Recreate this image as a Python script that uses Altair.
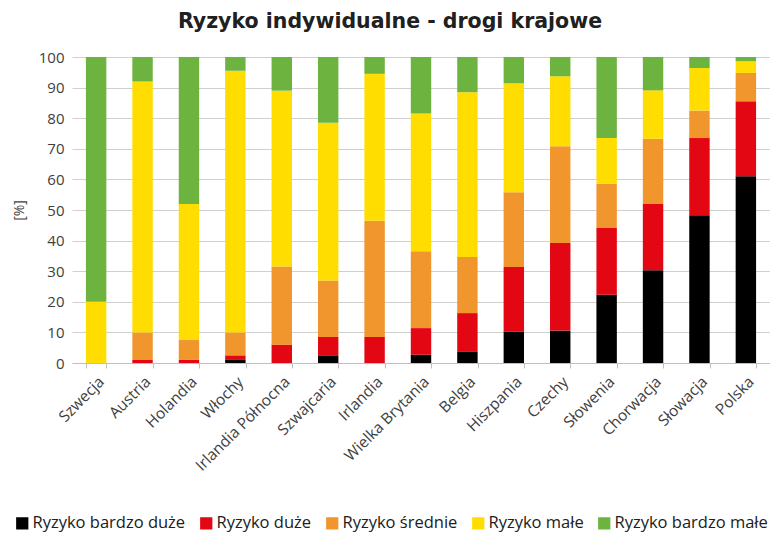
import altair as alt
import pandas as pd

countries = ["Szwecja", "Austria", "Holandia", "Włochy", "Irlandia Północna", "Szwajcaria",
             "Irlandia", "Wielka Brytania", "Belgia", "Hiszpania", "Czechy", "Słowenia",
             "Chorwacja", "Słowacja", "Polska"]
categories = ["Ryzyko bardzo duże", "Ryzyko duże", "Ryzyko średnie", "Ryzyko małe", "Ryzyko bardzo małe"]
colors = ["#000000", "#e30613", "#f0962d", "#ffdd00", "#6db33f"]

bardzo_duze = [0, 0, 0, 1.0, 0, 2.5, 0, 2.7, 3.8, 10.3, 10.6, 22.3, 30.3, 48.3, 61.0]
duze = [0, 1.0, 1.0, 1.5, 6.0, 6.0, 8.5, 8.7, 12.5, 21.1, 28.6, 21.8, 21.8, 25.2, 24.5]
srednie = [0, 9.0, 6.5, 7.5, 25.5, 18.5, 38.0, 25.1, 18.3, 24.4, 31.6, 14.5, 21.2, 9.0, 9.3]
male = [20.0, 82.0, 44.5, 85.5, 57.5, 51.5, 48.0, 45.0, 53.9, 35.6, 22.9, 14.9, 15.8, 13.9, 3.8]
bardzo_male = [80.0, 8.0, 48.0, 4.5, 11.0, 21.5, 5.5, 18.5, 11.5, 8.6, 6.3, 26.5, 10.9, 3.6, 1.4]

series = [bardzo_duze, duze, srednie, male, bardzo_male]
rows = []
for ci, (cat, vals) in enumerate(zip(categories, series)):
    for country, v in zip(countries, vals):
        rows.append({"kraj": country, "kategoria": cat, "wartosc": v, "kolejnosc": ci})
df = pd.DataFrame(rows)

font = "Open Sans"

chart = alt.Chart(df).mark_bar().encode(
    x=alt.X("kraj:N", sort=countries, title=None,
            scale=alt.Scale(paddingInner=0.56, paddingOuter=0.3),
            axis=alt.Axis(labelAngle=-45, labelFontSize=15.5, labelColor="#404040",
                          labelFont=font, domainColor="#bfbfbf", tickColor="#bfbfbf",
                          tickBand="extent", tickSize=5, labelPadding=6, grid=False)),
    y=alt.Y("wartosc:Q", stack="zero", title="[%]",
            scale=alt.Scale(domain=[0, 100]),
            axis=alt.Axis(values=list(range(0, 101, 10)), labelFontSize=15, labelColor="#404040",
                          labelFont=font, titleFont=font, titleFontSize=14, titleFontWeight="normal",
                          titleColor="#404040", titlePadding=12, domain=False, ticks=False,
                          gridColor="#d0d0d0", labelPadding=8)),
    color=alt.Color("kategoria:N", sort=categories,
                    scale=alt.Scale(domain=categories, range=colors),
                    legend=alt.Legend(title=None, orient="none", direction="horizontal",
                                      legendX=-58, legendY=458, symbolType="square",
                                      symbolSize=150, symbolStrokeWidth=0, labelFontSize=16.5,
                                      labelFont=font, labelColor="#202020", columnPadding=12,
                                      labelOffset=2)),
    order=alt.Order("kolejnosc:Q"),
).properties(
    width=698, height=306,
    autosize=alt.AutoSizeParams(type="none"),
    padding={"left": 64, "top": 49, "right": 0, "bottom": 170},
    title=alt.TitleParams("Ryzyko indywidualne - drogi krajowe", font="DejaVu Sans",
                          fontSize=20.5, fontWeight="bold", color="#202020",
                          anchor="middle", dx=-31, offset=18),
).configure_view(stroke=None)

chart.save("out.html", embed_options={"renderer": "svg", "actions": False})
